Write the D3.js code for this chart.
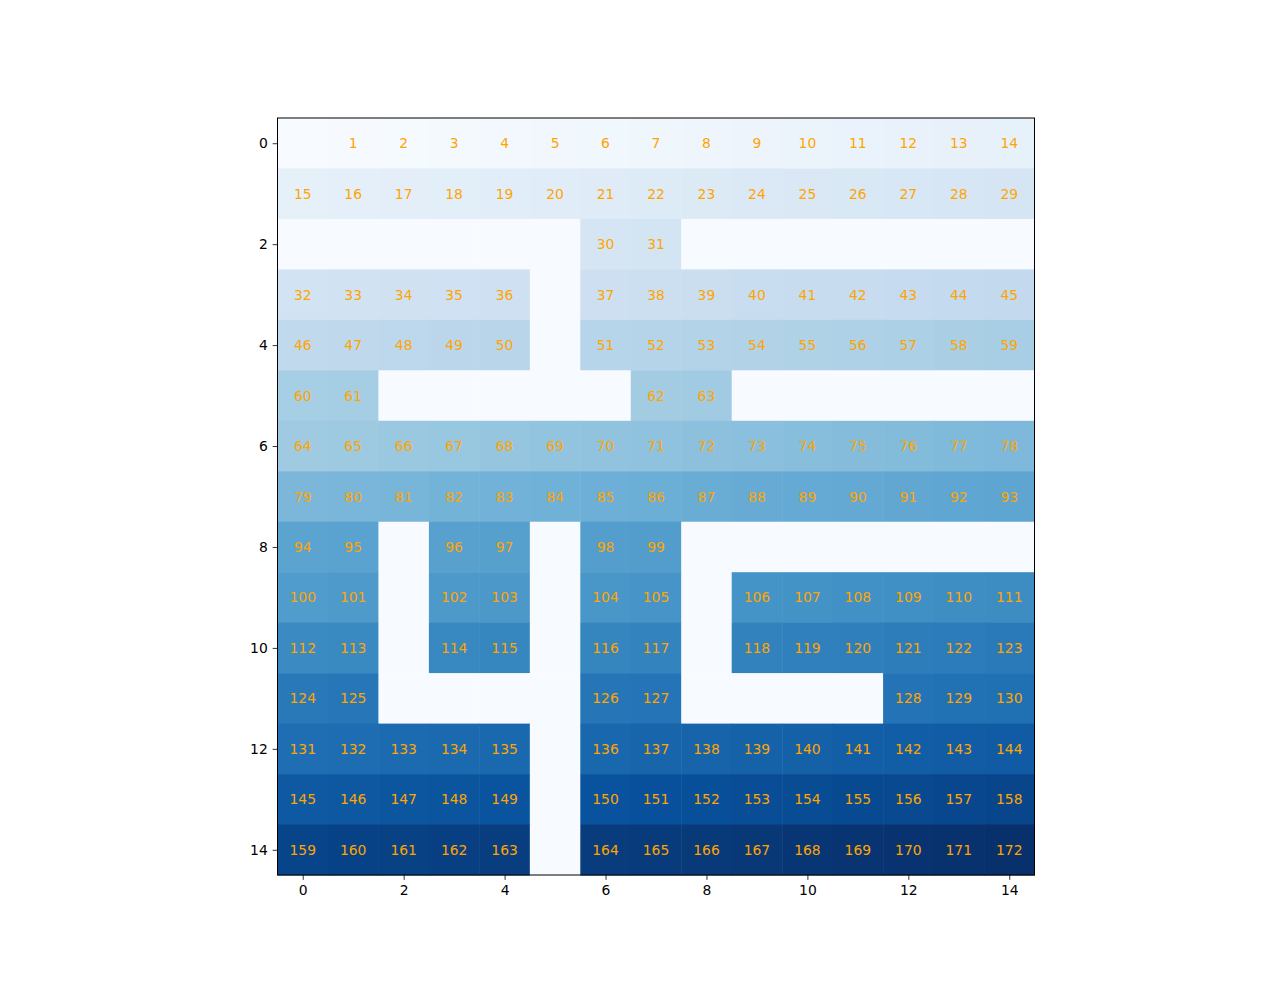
<!DOCTYPE html>
<html><head><meta charset="utf-8">
<script src="https://cdn.jsdelivr.net/npm/d3@7"></script>
<style>body{margin:0;background:#fff}</style>
</head><body>
<script>
// Grid values (0 = empty cell, no label)
const grid = [
  [0,1,2,3,4,5,6,7,8,9,10,11,12,13,14],
  [15,16,17,18,19,20,21,22,23,24,25,26,27,28,29],
  [0,0,0,0,0,0,30,31,0,0,0,0,0,0,0],
  [32,33,34,35,36,0,37,38,39,40,41,42,43,44,45],
  [46,47,48,49,50,0,51,52,53,54,55,56,57,58,59],
  [60,61,0,0,0,0,0,62,63,0,0,0,0,0,0],
  [64,65,66,67,68,69,70,71,72,73,74,75,76,77,78],
  [79,80,81,82,83,84,85,86,87,88,89,90,91,92,93],
  [94,95,0,96,97,0,98,99,0,0,0,0,0,0,0],
  [100,101,0,102,103,0,104,105,0,106,107,108,109,110,111],
  [112,113,0,114,115,0,116,117,0,118,119,120,121,122,123],
  [124,125,0,0,0,0,126,127,0,0,0,0,128,129,130],
  [131,132,133,134,135,0,136,137,138,139,140,141,142,143,144],
  [145,146,147,148,149,0,150,151,152,153,154,155,156,157,158],
  [159,160,161,162,163,0,164,165,166,167,168,169,170,171,172]
];
const xTicks = [0,2,4,6,8,10,12,14];
const yTicks = [0,2,4,6,8,10,12,14];
const bluesStops = ["#f7fbff","#deebf7","#c6dbef","#9ecae1","#6baed6","#4292c6","#2171b5","#08519c","#08306b"];

const W = 1280, H = 983;
const ax = {x0: 277.5, y0: 118, size: 757};
const n = grid.length;
const svg = d3.select("body").append("svg").attr("width", W).attr("height", H)
  .style("font-family", "DejaVu Sans, sans-serif");

const x = d3.scaleLinear().domain([-0.5, n - 0.5]).range([ax.x0, ax.x0 + ax.size]);
const y = d3.scaleLinear().domain([-0.5, n - 0.5]).range([ax.y0, ax.y0 + ax.size]);
const vmax = d3.max(grid.flat());
const color = d3.scaleLinear()
  .domain(bluesStops.map((_, i) => i / (bluesStops.length - 1) * vmax))
  .range(bluesStops).interpolate(d3.interpolateRgb);

const cells = [];
grid.forEach((row, r) => row.forEach((v, c) => cells.push({r, c, v})));

svg.append("g").selectAll("rect").data(cells).join("rect")
  .attr("x", d => x(d.c - 0.5)).attr("y", d => y(d.r - 0.5))
  .attr("width", x(0.5) - x(-0.5) + 0.5).attr("height", y(0.5) - y(-0.5) + 0.5)
  .attr("fill", d => color(d.v));

svg.append("g").selectAll("text").data(cells.filter(d => d.v > 0)).join("text")
  .attr("x", d => x(d.c)).attr("y", d => y(d.r))
  .attr("text-anchor", "middle").attr("dominant-baseline", "central")
  .attr("fill", "orange").style("font-size", "13.9px")
  .text(d => d.v);

const xAxis = d3.axisBottom(x).tickValues(xTicks).tickSize(4.86).tickPadding(4.86);
const yAxis = d3.axisLeft(y).tickValues(yTicks).tickSize(4.86).tickPadding(4.86);
const gx = svg.append("g").attr("transform", `translate(0,${ax.y0 + ax.size})`).call(xAxis);
const gy = svg.append("g").attr("transform", `translate(${ax.x0},0)`).call(yAxis);
[gx, gy].forEach(g => {
  g.select(".domain").remove();
  g.selectAll("line").attr("stroke", "#000").attr("stroke-width", 0.8);
  g.selectAll("text").attr("fill", "#000").style("font-size", "13.9px").style("font-family", "DejaVu Sans, sans-serif");
});

svg.append("rect").attr("x", ax.x0).attr("y", ax.y0).attr("width", ax.size).attr("height", ax.size)
  .attr("fill", "none").attr("stroke", "#000").attr("stroke-width", 1);
</script>
</body></html>
